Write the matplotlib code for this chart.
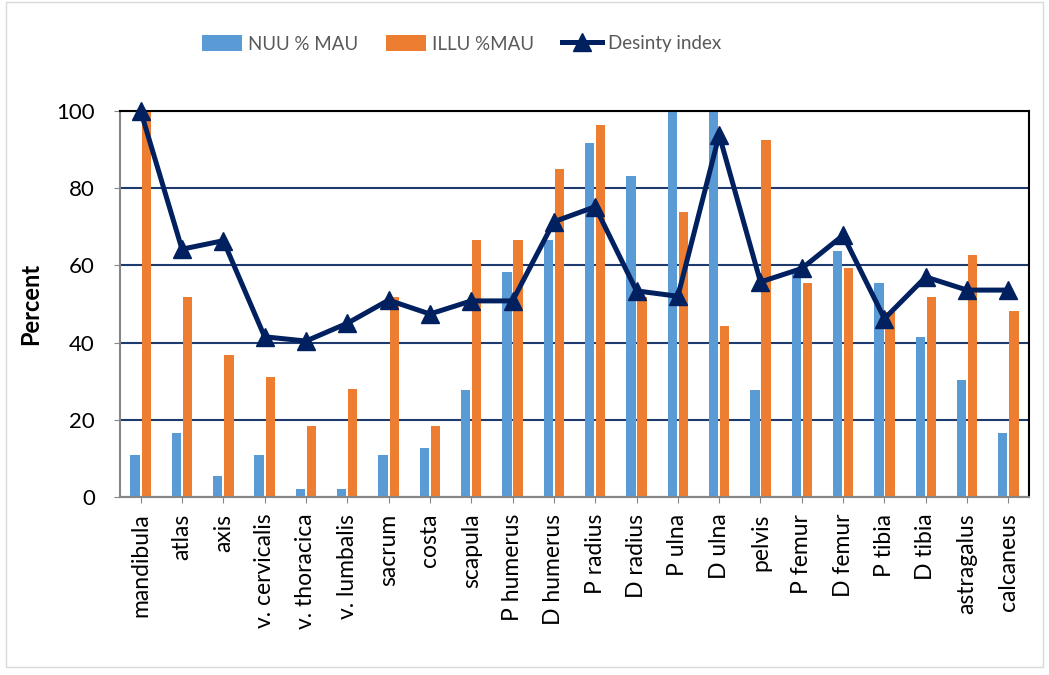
import matplotlib
matplotlib.use("Agg")
import matplotlib.pyplot as plt
import numpy as np

plt.rcParams['font.family'] = ['Lato', 'DejaVu Sans']

# --- data ---
categories = ["mandibula", "atlas", "axis", "v. cervicalis", "v. thoracica",
              "v. lumbalis", "sacrum", "costa", "scapula", "P humerus",
              "D humerus", "P radius", "D radius", "P ulna", "D ulna", "pelvis",
              "P femur", "D femur", "P tibia", "D tibia", "astragalus", "calcaneus"]
nuu_mau = [11.0, 16.6, 5.4, 11.0, 2.2, 2.2, 11.0, 12.6, 27.7, 58.2,
           66.5, 91.6, 83.2, 100.0, 100.0, 27.7, 58.3, 63.7, 55.5, 41.5, 30.4, 16.6]
illu_mau = [100.0, 51.7, 36.9, 31.0, 18.3, 27.9, 51.7, 18.3, 66.5, 66.5,
            85.0, 96.3, 51.7, 73.9, 44.3, 92.6, 55.5, 59.2, 48.0, 51.7, 62.8, 48.1]
density_index = [100.0, 64.2, 66.4, 41.5, 40.4, 45.0, 51.0, 47.4, 50.8, 50.8,
                 71.3, 75.2, 53.4, 52.0, 93.8, 55.7, 59.2, 67.8, 46.2, 57.0, 53.6, 53.6]

blue = "#5B9BD5"
orange = "#ED7D31"
navy = "#002060"

fig = plt.figure(figsize=(10.49, 6.75), dpi=100)
ax = fig.add_axes([0.1144, 0.2637, 0.8666, 0.5719])

x = np.arange(len(categories))
w = 0.225
b1 = ax.bar(x - 0.135, nuu_mau, w, color=blue, label="NUU % MAU", zorder=2)
b2 = ax.bar(x + 0.135, illu_mau, w, color=orange, label="ILLU %MAU", zorder=2)
ln, = ax.plot(x, density_index, color=navy, lw=3.6, marker="^", markersize=13,
              label="Desinty index", zorder=3, clip_on=False)

ax.set_xlim(-0.5, len(categories) - 0.5)
ax.set_ylim(0, 100)
ax.set_yticks([0, 20, 40, 60, 80, 100])
ax.set_xticks(x)
ax.set_xticklabels(categories, rotation=90, fontsize=16.5)
ax.tick_params(axis="y", labelsize=16, direction="out", length=4, color="#868686", pad=14)
ax.tick_params(axis="x", direction="out", length=4, color="#868686", pad=8)

ax.yaxis.grid(True, color="#1F3A6E", lw=1.5, zorder=1)
ax.set_axisbelow(True)
for side in ["left", "bottom"]:
    ax.spines[side].set_color("#868686")
    ax.spines[side].set_linewidth(1.5)
for side in ["top", "right"]:
    ax.spines[side].set_color("black")
    ax.spines[side].set_linewidth(1.5)

ax.set_ylabel("Percent", fontsize=17, fontweight="bold", labelpad=10)

leg = fig.legend(handles=[b1, b2, ln], loc="center", bbox_to_anchor=(0.44, 0.935),
                 ncol=3, frameon=False, fontsize=13.5, handlelength=2.15,
                 handleheight=0.9, columnspacing=1.5, handletextpad=0.3)
for t in leg.get_texts():
    t.set_color("#595959")

fig.patches.append(plt.Rectangle((0.006, 0.012), 0.988, 0.985, transform=fig.transFigure,
                                 fill=False, edgecolor="#D9D9D9", lw=1))

fig.savefig("out.png", dpi=100)
